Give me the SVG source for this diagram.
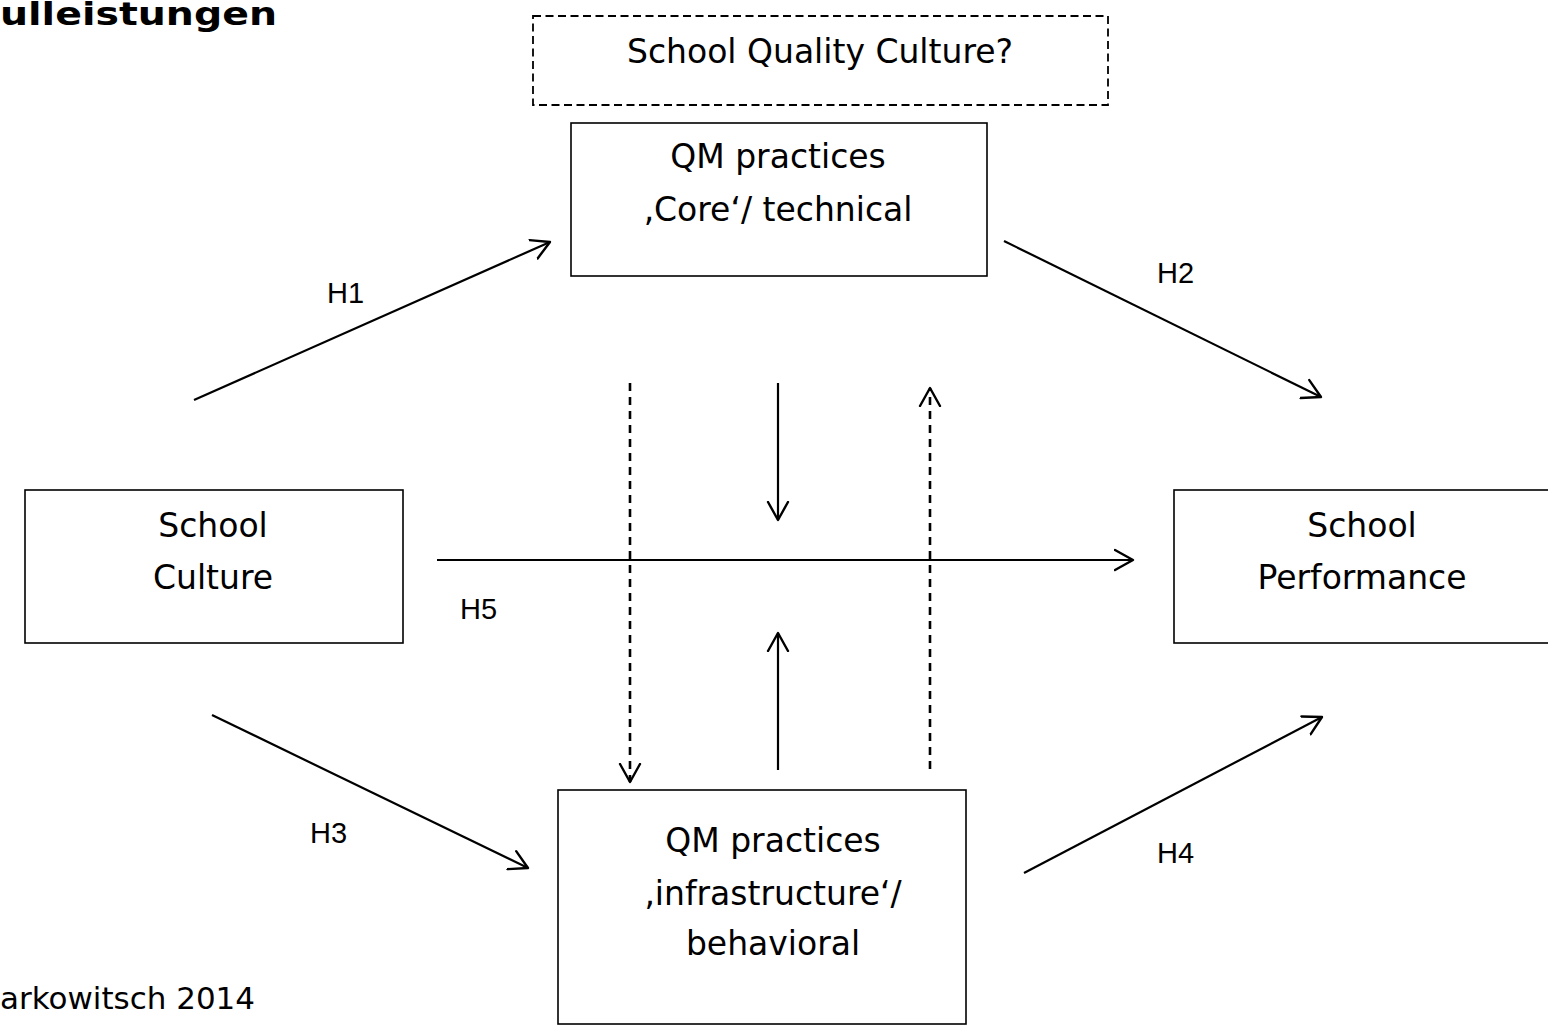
<svg xmlns="http://www.w3.org/2000/svg" width="1548" height="1025" viewBox="0 0 1548 1025">
  <style>
    text { font-family: "DejaVu Sans", "Liberation Sans", sans-serif; fill: #000; }
    .main { font-size: 33px; text-anchor: middle; }
    .lab { font-family: "Liberation Sans", Arial, sans-serif; font-size: 29px; }
    .box { fill: #fff; stroke: #000; stroke-width: 1.6; }
    .dbox { fill: none; stroke: #000; stroke-width: 1.8; stroke-dasharray: 8 4.5; }
    .arr { fill: none; stroke: #000; stroke-width: 2.2; marker-end: url(#head); }
    .dash { stroke-width: 2.6; stroke-dasharray: 8 6; }
  </style>
  <defs>
    <marker id="head" markerUnits="userSpaceOnUse" markerWidth="26" markerHeight="26" refX="19" refY="11" orient="auto" viewBox="0 0 26 22">
      <path d="M1,1 L19,11 L1,21" fill="none" stroke="#000" stroke-width="2.4" stroke-linejoin="round" stroke-linecap="round"/>
    </marker>
  </defs>

  <!-- heading and source line -->
  <text x="0" y="25" textLength="277" lengthAdjust="spacingAndGlyphs" style="font-size:32px;font-weight:bold">ulleistungen</text>
  <text x="0" y="1009" textLength="255" lengthAdjust="spacingAndGlyphs" style="font-size:30px">arkowitsch 2014</text>

  <!-- connectors -->
  <g id="connectors">
    <line class="arr" x1="194" y1="400" x2="550" y2="242"/>
    <line class="arr" x1="1004" y1="241" x2="1321" y2="397"/>
    <line class="arr" x1="212" y1="715" x2="528" y2="868"/>
    <line class="arr" x1="1024" y1="873" x2="1322" y2="717"/>
    <line class="arr" x1="437" y1="560" x2="1133" y2="560"/>
    <line class="arr dash" x1="630" y1="383" x2="630" y2="782"/>
    <line class="arr" x1="778" y1="383" x2="778" y2="520"/>
    <line class="arr dash" x1="930" y1="769" x2="930" y2="388"/>
    <line class="arr" x1="778" y1="770" x2="778" y2="633"/>
    <text class="lab" x="327" y="303">H1</text>
    <text class="lab" x="1157" y="283">H2</text>
    <text class="lab" x="310" y="843">H3</text>
    <text class="lab" x="1157" y="863">H4</text>
    <text class="lab" x="460" y="619">H5</text>
  </g>

  <g id="quality-culture">
    <rect class="dbox" x="533" y="16" width="575" height="89"/>
    <text class="main" x="820" y="63">School Quality Culture?</text>
  </g>

  <g id="qm-core">
    <rect class="box" x="571" y="123" width="416" height="153"/>
    <text class="main" x="778" y="168">QM practices</text>
    <text class="main" x="778" y="221">‚Core‘/ technical</text>
  </g>

  <g id="school-culture">
    <rect class="box" x="25" y="490" width="378" height="153"/>
    <text class="main" x="213" y="537">School</text>
    <text class="main" x="213" y="589">Culture</text>
  </g>

  <g id="school-performance">
    <rect class="box" x="1174" y="490" width="380" height="153"/>
    <text class="main" x="1362" y="537">School</text>
    <text class="main" x="1362" y="589">Performance</text>
  </g>

  <g id="qm-infrastructure">
    <rect class="box" x="558" y="790" width="408" height="234"/>
    <text class="main" x="773" y="852">QM practices</text>
    <text class="main" x="773" y="905">‚infrastructure‘/</text>
    <text class="main" x="773" y="955">behavioral</text>
  </g>
</svg>
